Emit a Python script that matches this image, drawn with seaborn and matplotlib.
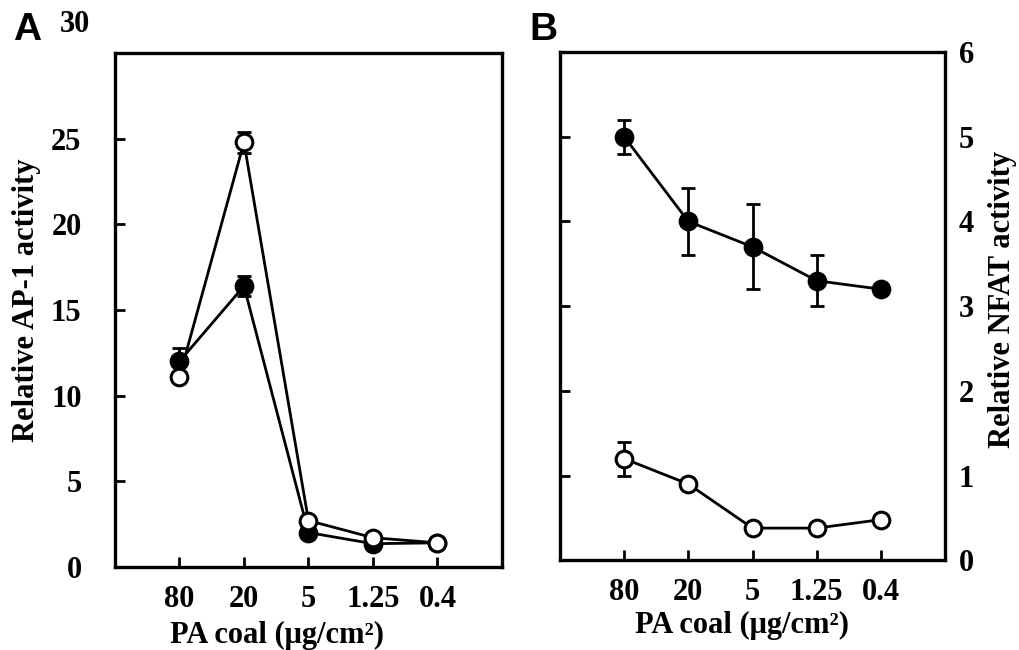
import numpy as np
import pandas as pd
import matplotlib
matplotlib.use("Agg")
import matplotlib.pyplot as plt
import seaborn as sns

# ---------------- data ----------------
conc_labels = ["80", "20", "5", "1.25", "0.4"]

ap1_filled = [12.0, 16.4, 2.0, 1.35, 1.4]
ap1_filled_err = [0.8, 0.6, 0.1, 0.1, 0.1]
ap1_open = [11.1, 24.8, 2.7, 1.7, 1.4]
ap1_open_err = [0.2, 0.6, 0.1, 0.1, 0.1]

nfat_filled = [5.0, 4.0, 3.7, 3.3, 3.2]
nfat_filled_err = [0.2, 0.4, 0.5, 0.3, 0.05]
nfat_open = [1.2, 0.9, 0.38, 0.38, 0.48]
nfat_open_err = [0.2, 0.05, 0.03, 0.06, 0.03]

ap1_ticks = [0, 5, 10, 15, 20, 25]
ap1_top_label = "30"
nfat_ticks = [0, 1, 2, 3, 4, 5, 6]

# ---------------- style ----------------
sns.set_style("ticks")
plt.rcParams["font.family"] = ["Liberation Serif", "DejaVu Serif"]
plt.rcParams["font.weight"] = "bold"
plt.rcParams["axes.labelweight"] = "bold"
plt.rcParams["text.color"] = "black"
plt.rcParams["axes.labelcolor"] = "black"
plt.rcParams["xtick.color"] = "black"
plt.rcParams["ytick.color"] = "black"
plt.rcParams["axes.edgecolor"] = "black"

fig = plt.figure(figsize=(10.2, 6.5), dpi=100)
axA = fig.add_axes([0.1127, 0.128, 0.3794, 0.790])
axB = fig.add_axes([0.549, 0.138, 0.3775, 0.782])

pos = np.arange(len(conc_labels))
FS = 22


def draw_series(ax, vals, errs, filled, z):
    df = pd.DataFrame({"pos": pos, "val": vals})
    ax.errorbar(pos, vals, yerr=errs, fmt="none", ecolor="black",
                elinewidth=2.0, capsize=5, capthick=2.0, zorder=z - 1)
    sns.lineplot(data=df, x="pos", y="val", ax=ax, color="black",
                 linewidth=2.0, marker="o", markersize=12,
                 markerfacecolor="black" if filled else "white",
                 markeredgecolor="black", markeredgewidth=2.2,
                 zorder=z, legend=False)


def style_axes(ax):
    for s in ax.spines.values():
        s.set_visible(True)
        s.set_linewidth(2.4)
        s.set_color("black")
    ax.set_xlim(-1, 5)
    ax.set_xticks(pos)
    ax.set_xticklabels(conc_labels)
    ax.tick_params(axis="x", direction="in", length=7, width=2,
                   labelsize=FS, pad=13, top=False, colors="black")
    ax.set_xlabel("PA coal (\u03bcg/cm\u00b2)", fontsize=FS, fontweight="bold",
                  color="black")


# ---- Panel A ----
draw_series(axA, ap1_filled, ap1_filled_err, True, 4)
draw_series(axA, ap1_open, ap1_open_err, False, 6)
style_axes(axA)
axA.set_ylim(0, 30)
axA.set_yticks(ap1_ticks)
axA.set_yticklabels([str(t) for t in ap1_ticks])
axA.tick_params(axis="y", direction="in", length=7, width=2,
                labelsize=FS, pad=24, right=False, colors="black")
axA.set_ylabel("Relative AP-1 activity", fontsize=FS, fontweight="bold",
               color="black")
axA.yaxis.set_label_coords(-0.19, 0.52)
axA.xaxis.set_label_coords(0.42, -0.105)
fig.text(75 / 1020, 1 - 25 / 650, ap1_top_label, fontsize=FS,
         fontweight="bold", ha="center", va="center", color="black")

# ---- Panel B ----
draw_series(axB, nfat_filled, nfat_filled_err, True, 4)
draw_series(axB, nfat_open, nfat_open_err, False, 6)
style_axes(axB)
axB.set_ylim(0, 6)
axB.set_yticks(nfat_ticks)
axB.set_yticklabels([str(t) for t in nfat_ticks])
axB.tick_params(axis="y", direction="in", length=7, width=2,
                labelsize=FS, pad=10, left=True, right=False,
                labelleft=False, labelright=True, colors="black")
axB.yaxis.set_label_position("right")
axB.set_ylabel("Relative NFAT activity", fontsize=FS, fontweight="bold",
               rotation=90, color="black")
axB.yaxis.set_label_coords(1.112, 0.514)
axB.xaxis.set_label_coords(0.473, -0.10)

# panel letters
fig.text(27 / 1020, 1 - 30 / 650, "A", fontsize=28, fontweight="bold",
         family=["Liberation Sans", "DejaVu Sans"], ha="center", va="center",
         color="black")
fig.text(543 / 1020, 1 - 30 / 650, "B", fontsize=28, fontweight="bold",
         family=["Liberation Sans", "DejaVu Sans"], ha="center", va="center",
         color="black")

fig.savefig("out.png", dpi=100, facecolor="white")
